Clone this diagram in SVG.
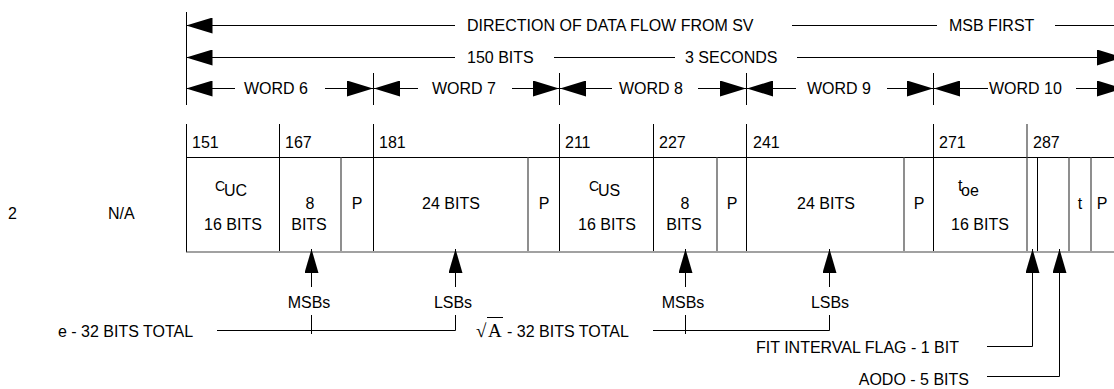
<svg xmlns="http://www.w3.org/2000/svg" width="1114" height="389" viewBox="0 0 1114 389">
<style>
.t{font-family:"Liberation Sans",Arial,Helvetica,sans-serif;font-size:16px;fill:#000}
.m{text-anchor:middle}
.e{text-anchor:end}
.s{font-family:"Liberation Serif","Times New Roman",serif;font-size:19px;fill:#000}
.ln{stroke:#000;stroke-width:1;fill:none}
.gl{stroke:#444;stroke-width:1.2;fill:none}
.ar{stroke:#000;stroke-width:1;fill:none;marker-end:url(#ah)}
.al{stroke:#000;stroke-width:1;fill:none;marker-start:url(#ah)}
.au{stroke:#000;stroke-width:1;fill:none;marker-end:url(#up)}
</style>
<defs>
<marker id="ah" viewBox="0 0 26 16" refX="26" refY="8" markerWidth="26" markerHeight="16" markerUnits="userSpaceOnUse" orient="auto-start-reverse"><path d="M0,0 L26,8 L0,16 z" fill="#000"/></marker>
<marker id="up" viewBox="0 0 24 14" refX="24" refY="7" markerWidth="24" markerHeight="14" markerUnits="userSpaceOnUse" orient="auto"><path d="M0,0 L24,7 L0,14 z" fill="#000"/></marker>
</defs>
<rect width="1114" height="389" fill="#fff"/>

<g id="header-direction">
<text class="t" x="467" y="31">DIRECTION OF DATA FLOW FROM SV</text>
<text class="t" x="949" y="31">MSB FIRST</text>
</g>
<g id="header-bits">
<text class="t" x="467" y="63">150 BITS</text>
<text class="t" x="685" y="63">3 SECONDS</text>
</g>
<g id="word6"><text class="t" x="244" y="94">WORD 6</text></g>
<g id="word7"><text class="t" x="432" y="94">WORD 7</text></g>
<g id="word8"><text class="t" x="619" y="94">WORD 8</text></g>
<g id="word9"><text class="t" x="807" y="94">WORD 9</text></g>
<g id="word10"><text class="t" x="989" y="94">WORD 10</text></g>

<g id="row-label">
<text class="t" x="8" y="219">2</text>
<text class="t" x="108" y="219">N/A</text>
</g>

<g id="table-frame">
<line class="ln" x1="186.5" y1="12" x2="186.5" y2="105"/>
<line class="ln" x1="186.5" y1="124" x2="186.5" y2="252"/>
<line class="ln" x1="186" y1="157.5" x2="1114" y2="157.5"/>
<line class="gl" x1="186" y1="252" x2="1114" y2="252"/>
<line class="ln" x1="373.5" y1="73" x2="373.5" y2="105"/>
<line class="ln" x1="559.5" y1="73" x2="559.5" y2="105"/>
<line class="ln" x1="746.5" y1="73" x2="746.5" y2="105"/>
<line class="ln" x1="933.5" y1="73" x2="933.5" y2="105"/>
<line class="ln" x1="279.5" y1="124" x2="279.5" y2="251"/>
<line class="ln" x1="373.5" y1="124" x2="373.5" y2="251"/>
<line class="ln" x1="559.5" y1="124" x2="559.5" y2="251"/>
<line class="ln" x1="653.5" y1="124" x2="653.5" y2="251"/>
<line class="ln" x1="746.5" y1="124" x2="746.5" y2="251"/>
<line class="ln" x1="933.5" y1="124" x2="933.5" y2="251"/>
<line class="gl" x1="1027" y1="124" x2="1027" y2="251"/>
<line class="gl" x1="341" y1="157" x2="341" y2="251"/>
<line class="gl" x1="528" y1="157" x2="528" y2="251"/>
<line class="gl" x1="717" y1="157" x2="717" y2="251"/>
<line class="gl" x1="904" y1="157" x2="904" y2="251"/>
<line class="ln" x1="1037.5" y1="157" x2="1037.5" y2="251"/>
<line class="gl" x1="1069" y1="157" x2="1069" y2="251"/>
<line class="gl" x1="1091" y1="157" x2="1091" y2="251"/>
</g>

<g id="cell-151">
<text class="t" x="192" y="148">151</text>
<text class="t" x="215" y="191" style="font-size:14px">C</text>
<text class="t" x="224" y="196">UC</text>
<text class="t m" x="233" y="230">16 BITS</text>
</g>
<g id="cell-167">
<text class="t" x="285" y="148">167</text>
<text class="t m" x="310" y="209">8</text>
<text class="t m" x="309" y="230">BITS</text>
</g>
<g id="cell-p1"><text class="t m" x="357" y="209">P</text></g>
<g id="cell-181">
<text class="t" x="379" y="148">181</text>
<text class="t m" x="451" y="209">24 BITS</text>
</g>
<g id="cell-p2"><text class="t m" x="544" y="209">P</text></g>
<g id="cell-211">
<text class="t" x="565" y="148">211</text>
<text class="t" x="589" y="191" style="font-size:14px">C</text>
<text class="t" x="598" y="196">US</text>
<text class="t m" x="607" y="230">16 BITS</text>
</g>
<g id="cell-227">
<text class="t" x="659" y="148">227</text>
<text class="t m" x="685" y="209">8</text>
<text class="t m" x="684" y="230">BITS</text>
</g>
<g id="cell-p3"><text class="t m" x="732" y="209">P</text></g>
<g id="cell-241">
<text class="t" x="753" y="148">241</text>
<text class="t m" x="826" y="209">24 BITS</text>
</g>
<g id="cell-p4"><text class="t m" x="919" y="209">P</text></g>
<g id="cell-271">
<text class="t" x="939" y="148">271</text>
<text class="t" x="958" y="191">t</text>
<text class="t" x="961" y="196">oe</text>
<text class="t m" x="980" y="230">16 BITS</text>
</g>
<g id="cell-287"><text class="t" x="1033" y="148">287</text></g>
<g id="cell-t"><text class="t m" x="1080" y="209">t</text></g>
<g id="cell-p5"><text class="t m" x="1102" y="209">P</text></g>

<g id="label-e">
<text class="t" x="58" y="337">e - 32 BITS TOTAL</text>
<text class="t m" x="309" y="308">MSBs</text>
<text class="t m" x="453" y="308">LSBs</text>
</g>
<g id="label-sqrtA">
<text class="s" x="476" y="337">√</text>
<line class="ln" x1="487" y1="317.5" x2="503" y2="317.5"/>
<text class="s" x="488" y="337">A</text>
<text class="t" x="507" y="337">- 32 BITS TOTAL</text>
<text class="t m" x="683" y="308">MSBs</text>
<text class="t m" x="830" y="308">LSBs</text>
</g>
<g id="label-fit"><text class="t e" x="959" y="353">FIT INTERVAL FLAG - 1 BIT</text></g>
<g id="label-aodo"><text class="t e" x="969" y="385">AODO - 5 BITS</text></g>

<g id="connectors">
<line class="al" x1="186.5" y1="25.5" x2="455" y2="25.5"/>
<line class="ln" x1="792" y1="25.5" x2="937" y2="25.5"/>
<line class="ln" x1="1055" y1="25.5" x2="1114" y2="25.5"/>
<line class="al" x1="186.5" y1="57.5" x2="455" y2="57.5"/>
<line class="ln" x1="554" y1="57.5" x2="675" y2="57.5"/>
<line class="ar" x1="797" y1="57.5" x2="1123" y2="57.5"/>
<line class="al" x1="186.5" y1="88.5" x2="235" y2="88.5"/>
<line class="ar" x1="325" y1="88.5" x2="373" y2="88.5"/>
<line class="al" x1="374" y1="88.5" x2="418" y2="88.5"/>
<line class="ar" x1="512" y1="88.5" x2="559" y2="88.5"/>
<line class="al" x1="560" y1="88.5" x2="612" y2="88.5"/>
<line class="ar" x1="698" y1="88.5" x2="746" y2="88.5"/>
<line class="al" x1="747" y1="88.5" x2="796" y2="88.5"/>
<line class="ar" x1="887" y1="88.5" x2="933" y2="88.5"/>
<line class="al" x1="934" y1="88.5" x2="988" y2="88.5"/>
<line class="ar" x1="1076" y1="88.5" x2="1123" y2="88.5"/>

<line class="au" x1="311.5" y1="287" x2="311.5" y2="249"/>
<line class="au" x1="455.5" y1="287" x2="455.5" y2="249"/>
<line class="au" x1="685.5" y1="287" x2="685.5" y2="249"/>
<line class="au" x1="829.5" y1="287" x2="829.5" y2="249"/>
<polyline class="ln" points="217,330.5 455.5,330.5 455.5,315"/>
<line class="ln" x1="311.5" y1="315" x2="311.5" y2="334"/>
<polyline class="ln" points="653,330.5 829.5,330.5 829.5,315"/>
<line class="ln" x1="685.5" y1="315" x2="685.5" y2="334"/>
<polyline class="au" points="987,346.5 1032.5,346.5 1032.5,249"/>
<polyline class="au" points="987,376.5 1059.5,376.5 1059.5,249"/>
</g>
</svg>
